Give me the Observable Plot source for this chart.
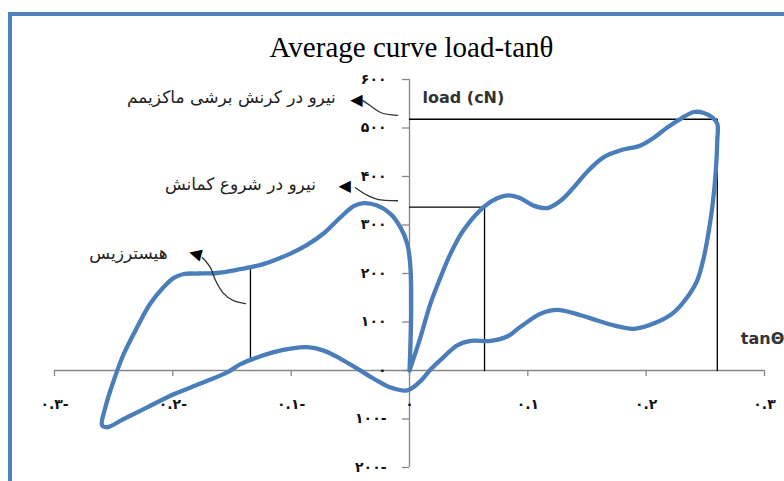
<!DOCTYPE html>
<html>
<head>
<meta charset="utf-8">
<script src="https://cdn.jsdelivr.net/npm/d3@7"></script>
<script src="https://cdn.jsdelivr.net/npm/@observablehq/plot@0.6"></script>
<style>
  html, body { margin: 0; padding: 0; background: white; }
  #wrap { position: relative; width: 784px; height: 481px; overflow: hidden; background: white; }
  #title { box-sizing: border-box; width: 784px; height: 59px; padding-top: 33px; padding-left: 39px;
           text-align: center; font-family: "Liberation Serif", "Times New Roman", serif; font-size: 29px; line-height: 29px; color: #000; white-space: nowrap; }
  #frame { position: absolute; left: 8px; top: 12px; width: 1000px; height: 1000px; border: 4px solid #4f81bd; pointer-events: none; }
  #chart svg { display: block; }
</style>
</head>
<body>
<div id="wrap">
  <div id="title">Average curve load-tanθ</div>
  <div id="chart"></div>
  <div id="frame"></div>
</div>
<script>
// Axis ticks and labels (Persian numerals)
const xTicks = [-0.3, -0.2, -0.1, 0, 0.1, 0.2, 0.3];
const xTickLabels = ["۰.۳-", "۰.۲-", "۰.۱-", "۰", "۰.۱", "۰.۲", "۰.۳"];
const yTicks = [-200, -100, 0, 100, 200, 300, 400, 500, 600];
const yTickLabels = ["۲۰۰-", "۱۰۰-", "۰", "۱۰۰", "۲۰۰", "۳۰۰", "۴۰۰", "۵۰۰", "۶۰۰"];

// Average hysteresis loop (tanθ, load in cN), traced in drawing order
const tanTheta = [
  0, 0.0093, 0.0177, 0.0262, 0.0347, 0.0456, 0.0626, 0.0741, 0.0837, 0.0938, 0.1048, 0.1164,
  0.1277, 0.1386, 0.1502, 0.1642, 0.1784, 0.1953, 0.2065, 0.2178, 0.2291, 0.2403, 0.2488, 0.2559,
  0.2601, 0.2601, 0.2587, 0.2559, 0.253, 0.2488, 0.2432, 0.2347, 0.2234, 0.2094, 0.1896, 0.1727,
  0.1587, 0.1446, 0.1249, 0.1107, 0.0938, 0.0826, 0.0685, 0.0516, 0.0403, 0.029, 0.0178, 0.0093,
  -0.0019, -0.0161, -0.0302, -0.0442, -0.0583, -0.0724, -0.0865, -0.1006, -0.1147, -0.1287, -0.1429,
  -0.1541, -0.1767, -0.1992, -0.2217, -0.2415, -0.2555, -0.2598, -0.257, -0.25, -0.2415, -0.2302,
  -0.219, -0.2077, -0.1992, -0.1908, -0.1795, -0.1626, -0.1429, -0.1287, -0.1147, -0.1006, -0.0865,
  -0.0724, -0.0583, -0.0471, -0.0386, -0.0273, -0.0161, -0.0076, -0.0019, 0.0008, 0.0014, 0
];
const loadCN = [
  0, 69, 138, 192, 241, 289, 337, 355, 361, 355, 340, 335,
  350, 377, 410, 440, 454, 464, 480, 501, 519, 533, 531, 522,
  509, 474, 406, 337, 289, 234, 186, 151, 120, 100, 86, 93,
  103, 114, 125, 117, 90, 70, 61, 61, 52, 28, 2, -22,
  -41, -35, -17, 4, 24, 41, 48, 45, 38, 27, 13,
  -4, -27, -49, -76, -100, -117, -113, -76, -21, 34, 89,
  138, 172, 191, 199, 200, 201, 209, 216, 227, 241, 259,
  283, 316, 339, 345, 340, 323, 295, 261, 213, 117, 0
];

// Guide lines
const guideMaxTan = [0, 0.2601, 0.2601];
const guideMaxLoad = [518, 518, 0];
const guideBuckleTan = [0, 0.0634, 0.0634];
const guideBuckleLoad = [337, 337, 0];
const guideHystTan = [-0.1344, -0.1344];
const guideHystLoad = [19, 212];

// Annotations (Persian)
const noteLabels = ["نیرو در کرنش برشی ماکزیمم", "نیرو در شروع کمانش", "هیسترزیس"];
const noteTan = [-0.1505, -0.1429, -0.2375];
const noteLoad = [563, 383, 241];

// Annotation arrows
const arrowMaxPath = [[-0.0101, 526], [-0.0245, 532], [-0.033, 546], [-0.0397, 557]];
const arrowBucklePath = [[-0.0101, 350], [-0.0271, 353], [-0.0355, 361], [-0.0456, 377]];
const arrowHystPath = [[-0.1386, 138], [-0.1488, 144], [-0.1572, 159], [-0.164, 186], [-0.1682, 212], [-0.175, 233]];
const arrowHeadTan = [-0.0448, -0.0549, -0.1809];
const arrowHeadLoad = [558, 380, 242];
const arrowHeadAngle = [0, 0, 15];

const loop = tanTheta.map((t, i) => ({t, l: loadCN[i]}));
const zip = (a, b) => a.map((v, i) => [v, b[i]]);
const heads = arrowHeadTan.map((t, i) => ({t, l: arrowHeadLoad[i], r: arrowHeadAngle[i]}));
const notes = noteLabels.map((s, i) => ({s, t: noteTan[i], l: noteLoad[i]}));

const axisColor = "#868686";
const arrowColor = "#333333";

const chart = Plot.plot({
  width: 784,
  height: 422,
  marginTop: 20,
  marginBottom: 14,
  marginLeft: 54,
  marginRight: 20,
  x: {domain: [-0.3, 0.3], axis: null},
  y: {domain: [-200, 600], axis: null},
  style: {background: "transparent", overflow: "visible"},
  marks: [
    // axes through the origin
    Plot.ruleY([0], {stroke: axisColor, strokeWidth: 1.3}),
    Plot.ruleX([0], {stroke: axisColor, strokeWidth: 1.3}),
    Plot.ruleX(xTicks, {x: d => d, y1: 0, y2: 0, insetBottom: -6, stroke: axisColor, strokeWidth: 1.3}),
    Plot.ruleY(yTicks, {y: d => d, x1: 0, x2: 0, insetLeft: -7, stroke: axisColor, strokeWidth: 1.3}),
    Plot.text(xTicks, {x: d => d, y: 0, text: (d, i) => xTickLabels[i], dy: 34, fontFamily: "DejaVu Sans", fontSize: 14, fontWeight: "bold", fill: "#111", letterSpacing: 3}),
    Plot.text(yTicks, {x: 0, y: d => d, text: (d, i) => yTickLabels[i], dx: -23, textAnchor: "end", fontFamily: "DejaVu Sans", fontSize: 14, fontWeight: "bold", fill: "#111", letterSpacing: 1.5}),
    Plot.text(["load (cN)"], {x: 0.011, y: 563, text: d => d, textAnchor: "start", fontFamily: "DejaVu Sans", fontSize: 16, fontWeight: 600, fill: "#333"}),
    Plot.text(["tanΘ"], {x: 0.28, y: 66, text: d => d, textAnchor: "start", fontFamily: "DejaVu Sans", fontSize: 16, fontWeight: 600, fill: "#333"}),
    // guide lines
    Plot.line(zip(guideMaxTan, guideMaxLoad), {stroke: "#000", strokeWidth: 1.3}),
    Plot.line(zip(guideBuckleTan, guideBuckleLoad), {stroke: "#000", strokeWidth: 1.3}),
    Plot.line(zip(guideHystTan, guideHystLoad), {stroke: "#000", strokeWidth: 1.3}),
    // the loop
    Plot.line(loop, {x: "t", y: "l", curve: "catmull-rom", stroke: "#4a7ebb", strokeWidth: 4.3, strokeLinejoin: "round"}),
    // annotations
    Plot.line(arrowMaxPath, {curve: "catmull-rom", stroke: arrowColor, strokeWidth: 1.3}),
    Plot.line(arrowBucklePath, {curve: "catmull-rom", stroke: arrowColor, strokeWidth: 1.3}),
    Plot.line(arrowHystPath, {curve: "catmull-rom", stroke: arrowColor, strokeWidth: 1.3}),
    Plot.text(heads, {x: "t", y: "l", rotate: "r", text: () => "◀", fontFamily: "DejaVu Sans", fontSize: 16, fill: "#000"}),
    Plot.text(notes, {x: "t", y: "l", text: "s", fontFamily: "DejaVu Sans", fontSize: 17, fill: "#222"})
  ]
});
document.getElementById("chart").appendChild(chart);
</script>
</body>
</html>
